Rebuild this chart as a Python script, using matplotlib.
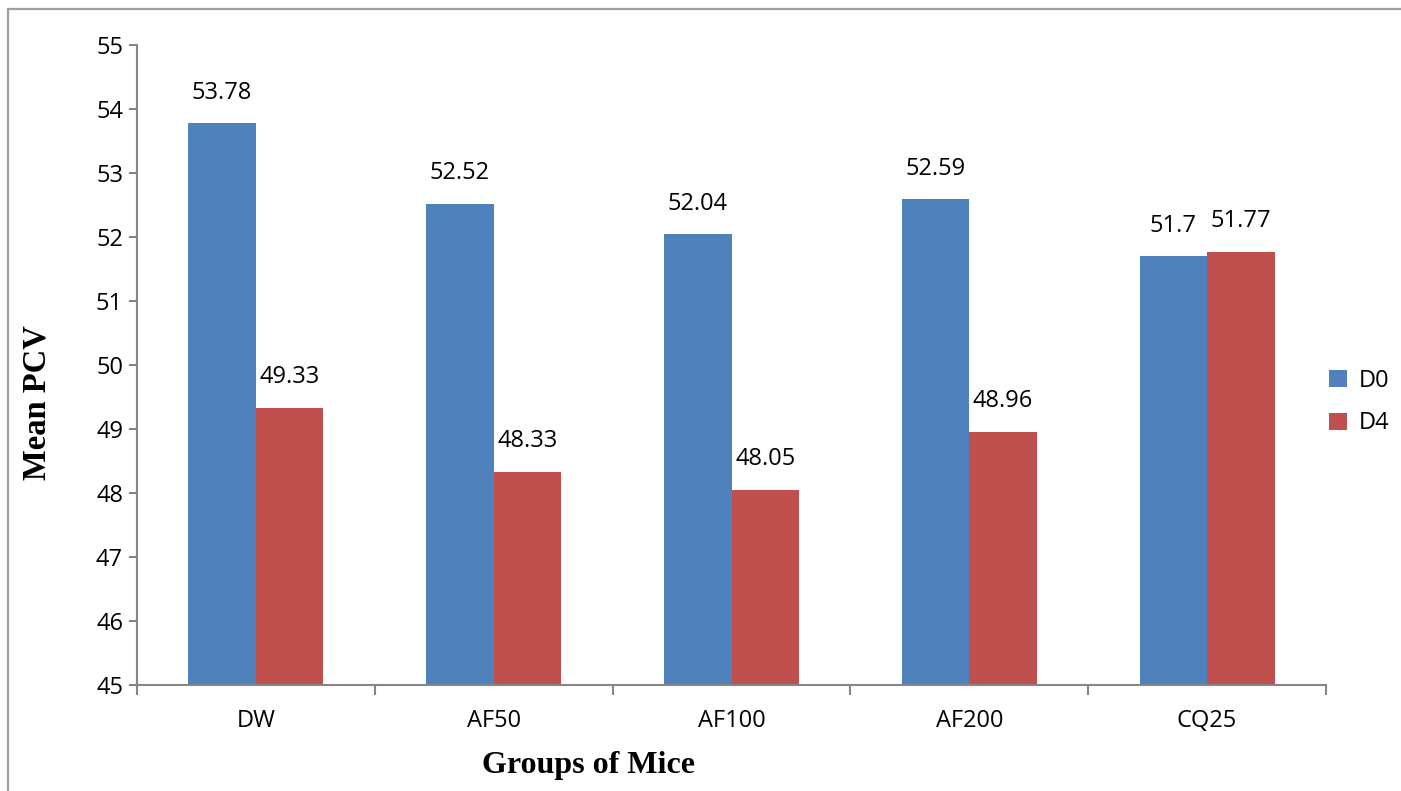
import numpy as np
import matplotlib.pyplot as plt
from matplotlib.patches import Rectangle

groups = ['DW', 'AF50', 'AF100', 'AF200', 'CQ25']
d0 = [53.78, 52.52, 52.04, 52.59, 51.7]
d4 = [49.33, 48.33, 48.05, 48.96, 51.77]
yticks = [45, 46, 47, 48, 49, 50, 51, 52, 53, 54, 55]

blue = '#4f81bd'
red = '#c0504d'
grey = '#868686'

W, H = 1401, 791
fig = plt.figure(figsize=(W / 100, H / 100), dpi=100)
fig.patches.append(Rectangle((8 / W, -0.1), 2, 1 - 9.5 / H + 0.1, transform=fig.transFigure,
                             fill=False, edgecolor='#a0a0a0', linewidth=1.6))

ax = fig.add_axes([137 / W, 1 - 685 / H, (1326 - 137) / W, (685 - 45) / H])
x = np.arange(len(groups))
bw = 0.284
b0 = ax.bar(x - bw / 2, np.array(d0) - 45, bw, bottom=45, color=blue, label='D0')
b1 = ax.bar(x + bw / 2, np.array(d4) - 45, bw, bottom=45, color=red, label='D4')

lab_font = 'Open Sans'
fs = 17
for rects, vals in ((b0, d0), (b1, d4)):
    for r, v in zip(rects, vals):
        ax.annotate(f'{v:g}', (r.get_x() + r.get_width() / 2, v), xytext=(0, 22),
                    textcoords='offset points', ha='center', va='center',
                    fontsize=fs, family=lab_font)

ax.set_xlim(-0.5, len(groups) - 0.5)
ax.set_ylim(45, 55)
ax.set_yticks(yticks)
ax.set_yticklabels([str(t) for t in yticks], fontsize=fs, family=lab_font)
ax.set_xticks(x)
ax.set_xticklabels(groups, fontsize=fs, family=lab_font)
ax.tick_params(axis='x', length=0, pad=17)
ax.set_xticks(np.arange(len(groups) + 1) - 0.5, minor=True)
ax.tick_params(axis='x', which='minor', length=7, width=1.5, color=grey, direction='out')
ax.tick_params(axis='y', length=6, width=1.5, color=grey, direction='out', pad=4)

for s in ('top', 'right'):
    ax.spines[s].set_visible(False)
for s in ('left', 'bottom'):
    ax.spines[s].set_color(grey)
    ax.spines[s].set_linewidth(1.5)

fig.text(37 / W, 1 - 403 / H, 'Mean PCV', rotation=90, ha='center', va='center',
         fontsize=23.5, fontweight='bold', family='Liberation Serif')
fig.text(588 / W, 1 - 766 / H, 'Groups of Mice', ha='center', va='center',
         fontsize=23, fontweight='bold', family='Liberation Serif')

fig.legend(handles=[b0, b1], loc='center left', bbox_to_anchor=(1329 / W, 1 - 402 / H),
           frameon=False, prop={'family': lab_font, 'size': fs}, handlelength=0.75,
           handleheight=0.75, handletextpad=0.5, labelspacing=0.8,
           borderpad=0, borderaxespad=0)

fig.savefig('out.png', dpi=100)
